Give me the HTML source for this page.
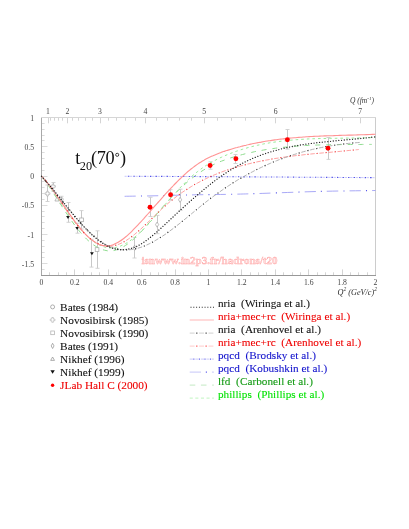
<!DOCTYPE html><html><head><meta charset="utf-8"><style>
html,body{margin:0;padding:0;background:#fff}
body{width:409px;height:529px;position:relative;overflow:hidden;font-family:"Liberation Serif",serif;color:#222}
.t{position:absolute;white-space:nowrap;line-height:1}
.yl{font-size:7.7px;text-align:right;width:20px;left:14.0px;color:#444;transform:scaleY(0.95)}
.xl{font-size:7.7px;text-align:center;width:20px;color:#444;transform:scaleY(0.95)}
.lg{font-size:11.3px;left:60.1px;color:#111;-webkit-text-stroke:0.1px currentColor}
.rg{font-size:11.2px;left:217.9px;white-space:pre;letter-spacing:0.04px;-webkit-text-stroke:0.1px currentColor}
#w{position:absolute;left:0;top:0;width:409px;height:529px;will-change:transform}
</style></head><body><div id="w">
<svg width="409" height="529" viewBox="0 0 409 529" style="position:absolute;left:0;top:0">
<g fill="none" stroke-width="1">
<path d="M41.5 117V276" stroke="#a8a8a8"/><path d="M375.5 117V276" stroke="#cccccc"/>
<path d="M41 117.5H376" stroke="#d6d6d6"/><path d="M41 275.5H376" stroke="#989898"/>
</g>
<path d="M49.5 275v-2.7M58.5 275v-2.7M66.5 275v-2.7M74.5 275v-5.6M83.5 275v-2.7M91.5 275v-2.7M99.5 275v-2.7M108.5 275v-5.6M116.5 275v-2.7M125.5 275v-2.7M133.5 275v-2.7M141.5 275v-5.6M150.5 275v-2.7M158.5 275v-2.7M166.5 275v-2.7M175.5 275v-5.6M183.5 275v-2.7M191.5 275v-2.7M200.5 275v-2.7M208.5 275v-5.6M216.5 275v-2.7M225.5 275v-2.7M233.5 275v-2.7M241.5 275v-5.6M250.5 275v-2.7M258.5 275v-2.7M266.5 275v-2.7M275.5 275v-5.6M283.5 275v-2.7M292.5 275v-2.7M300.5 275v-2.7M308.5 275v-5.6M317.5 275v-2.7M325.5 275v-2.7M333.5 275v-2.7M342.5 275v-5.6M350.5 275v-2.7M358.5 275v-2.7M367.5 275v-2.7M48.5 118v5.3M50.5 118v2.7M54.5 118v2.7M58.5 118v2.7M62.5 118v2.7M67.5 118v5.3M72.5 118v2.7M78.5 118v2.7M85.5 118v2.7M92.5 118v2.7M100.5 118v5.3M108.5 118v2.7M116.5 118v2.7M125.5 118v2.7M135.5 118v2.7M145.5 118v5.3M156.5 118v2.7M167.5 118v2.7M179.5 118v2.7M191.5 118v2.7M204.5 118v5.3M217.5 118v2.7M231.5 118v2.7M245.5 118v2.7M260.5 118v2.7M275.5 118v5.3M291.5 118v2.7M307.5 118v2.7M324.5 118v2.7M342.5 118v2.7M360.5 118v5.3" fill="none" stroke="#d4d4d4" stroke-width="1"/>
<path d="M42 269.5h2.6M42 263.5h5.5M42 257.5h2.6M42 252.5h2.6M42 246.5h2.6M42 240.5h2.6M42 234.5h5.5M42 228.5h2.6M42 222.5h2.6M42 216.5h2.6M42 211.5h2.6M42 205.5h5.5M42 199.5h2.6M42 193.5h2.6M42 187.5h2.6M42 181.5h2.6M42 176.5h5.5M42 170.5h2.6M42 164.5h2.6M42 158.5h2.6M42 152.5h2.6M42 146.5h5.5M42 140.5h2.6M42 135.5h2.6M42 129.5h2.6M42 123.5h2.6" fill="none" stroke="#dcdcdc" stroke-width="1"/>
<path d="M47.5 185.0V201.5" fill="none" stroke="#c8c8c8" stroke-width="1"/><path d="M45.5 185.0h4.0M45.5 201.5h4.0" fill="none" stroke="#cecece" stroke-width="0.9"/>
<path d="M46.7 191.2h1.6v1.6h1.6v1.6h-1.6v1.6h-1.6v-1.6h-1.6v-1.6h1.6z" fill="#fff" stroke="#a2a2a2" stroke-width="0.6"/>
<path d="M53.5 182.5V191.4" fill="none" stroke="#c8c8c8" stroke-width="1"/><path d="M51.5 182.5h4.0M51.5 191.4h4.0" fill="none" stroke="#cecece" stroke-width="0.9"/>
<path d="M52.2 184.0h1.6v1.6h1.6v1.6h-1.6v1.6h-1.6v-1.6h-1.6v-1.6h1.6z" fill="#fff" stroke="#a2a2a2" stroke-width="0.6"/>
<path d="M61.5 196.3V203.0" fill="none" stroke="#c8c8c8" stroke-width="1"/><path d="M59.5 196.3h4.0M59.5 203.0h4.0" fill="none" stroke="#cecece" stroke-width="0.9"/>
<path d="M54.9 201.0l2.1 -3.9l2.1 3.9z" fill="#fff" stroke="#a2a2a2" stroke-width="0.7"/>
<circle cx="61.2" cy="199.4" r="2.0" fill="none" stroke="#a2a2a2" stroke-width="0.7"/>
<path d="M81.5 210.6V229.0" fill="none" stroke="#c8c8c8" stroke-width="1"/><path d="M79.5 210.6h4.0M79.5 229.0h4.0" fill="none" stroke="#cecece" stroke-width="0.9"/>
<rect x="79.7" y="218.0" width="3.7" height="3.7" fill="#fff" stroke="#a2a2a2" stroke-width="0.7"/>
<path d="M97.5 230.8V268.3" fill="none" stroke="#c8c8c8" stroke-width="1"/><path d="M95.5 230.8h4.0M95.5 268.3h4.0" fill="none" stroke="#cecece" stroke-width="0.9"/>
<rect x="95.2" y="247.7" width="3.7" height="3.7" fill="#fff" stroke="#a2a2a2" stroke-width="0.7"/>
<path d="M68.5 202.5V222.3" fill="none" stroke="#c8c8c8" stroke-width="1"/><path d="M66.5 202.5h4.0M66.5 222.3h4.0" fill="none" stroke="#cecece" stroke-width="0.9"/>
<path d="M66.1 216.0h3.8l-1.9 3.1z" fill="#111"/>
<path d="M77.5 223.3V233.2" fill="none" stroke="#c8c8c8" stroke-width="1"/><path d="M75.5 223.3h4.0M75.5 233.2h4.0" fill="none" stroke="#cecece" stroke-width="0.9"/>
<path d="M75.3 226.9h3.8l-1.9 3.1z" fill="#111"/>
<path d="M91.5 239.3V267.1" fill="none" stroke="#c8c8c8" stroke-width="1"/><path d="M89.5 239.3h4.0M89.5 267.1h4.0" fill="none" stroke="#cecece" stroke-width="0.9"/>
<path d="M90.0 252.2h3.8l-1.9 3.1z" fill="#111"/>
<path d="M134.5 237.4V258.0" fill="none" stroke="#c8c8c8" stroke-width="1"/><path d="M132.5 237.4h4.0M132.5 258.0h4.0" fill="none" stroke="#cecece" stroke-width="0.9"/>
<path d="M133.0 247.8l1.6 -2.6l1.6 2.6l-1.6 2.6z" fill="#fff" stroke="#a2a2a2" stroke-width="0.7"/>
<path d="M157.5 215.4V233.7" fill="none" stroke="#c8c8c8" stroke-width="1"/><path d="M155.5 215.4h4.0M155.5 233.7h4.0" fill="none" stroke="#cecece" stroke-width="0.9"/>
<path d="M155.5 224.6l1.6 -2.6l1.6 2.6l-1.6 2.6z" fill="#fff" stroke="#a2a2a2" stroke-width="0.7"/>
<path d="M180.5 189.2V210.4" fill="none" stroke="#c8c8c8" stroke-width="1"/><path d="M178.5 189.2h4.0M178.5 210.4h4.0" fill="none" stroke="#cecece" stroke-width="0.9"/>
<path d="M178.5 199.8l1.6 -2.6l1.6 2.6l-1.6 2.6z" fill="#fff" stroke="#a2a2a2" stroke-width="0.7"/>
<path d="M150.5 197.3V216.5" fill="none" stroke="#c8c8c8" stroke-width="1"/><path d="M148.5 197.3h4.0M148.5 216.5h4.0" fill="none" stroke="#cecece" stroke-width="0.9"/>
<path d="M170.5 189.7V200.1" fill="none" stroke="#c8c8c8" stroke-width="1"/><path d="M168.5 189.7h4.0M168.5 200.1h4.0" fill="none" stroke="#cecece" stroke-width="0.9"/>
<path d="M210.5 161.8V169.2" fill="none" stroke="#c8c8c8" stroke-width="1"/><path d="M208.5 161.8h4.0M208.5 169.2h4.0" fill="none" stroke="#cecece" stroke-width="0.9"/>
<path d="M235.5 154.5V163.5" fill="none" stroke="#c8c8c8" stroke-width="1"/><path d="M233.5 154.5h4.0M233.5 163.5h4.0" fill="none" stroke="#cecece" stroke-width="0.9"/>
<path d="M287.5 129.5V149.1" fill="none" stroke="#c8c8c8" stroke-width="1"/><path d="M285.5 129.5h4.0M285.5 149.1h4.0" fill="none" stroke="#cecece" stroke-width="0.9"/>
<path d="M328.5 137.5V159.4" fill="none" stroke="#c8c8c8" stroke-width="1"/><path d="M326.5 137.5h4.0M326.5 159.4h4.0" fill="none" stroke="#cecece" stroke-width="0.9"/>
<path d="M41.5 176.2C42.0 176.9 43.5 178.8 44.5 180.1C45.5 181.5 46.5 182.9 47.5 184.3C48.5 185.8 49.5 187.2 50.5 188.7C51.5 190.2 52.5 191.7 53.5 193.2C54.5 194.8 55.5 196.3 56.5 197.8C57.5 199.4 58.5 201.0 59.5 202.5C60.5 204.1 61.5 205.6 62.5 207.2C63.5 208.7 64.5 210.3 65.5 211.8C66.5 213.3 67.5 214.8 68.5 216.3C69.5 217.8 70.5 219.3 71.5 220.7C72.5 222.1 73.5 223.5 74.5 224.9C75.5 226.2 76.5 227.6 77.5 228.8C78.5 230.1 79.5 231.3 80.5 232.5C81.5 233.7 82.5 234.8 83.5 235.9C84.5 237.0 85.5 238.0 86.5 239.0C87.5 239.9 88.5 240.9 89.5 241.7C90.5 242.6 91.5 243.4 92.5 244.2C93.5 244.9 94.5 245.6 95.5 246.2C96.5 246.9 97.5 247.4 98.5 247.9C99.5 248.4 100.5 248.9 101.5 249.3C102.5 249.6 103.5 250.0 104.5 250.2C105.5 250.5 106.5 250.6 107.5 250.8C108.5 250.9 109.5 250.9 110.5 250.9C111.5 250.8 112.5 250.7 113.5 250.6C114.5 250.4 115.5 250.1 116.5 249.8C117.5 249.5 118.5 249.1 119.5 248.7C120.5 248.3 121.5 247.8 122.5 247.2C123.5 246.7 124.6 246.1 125.6 245.4C126.6 244.7 127.6 244.0 128.6 243.3C129.6 242.5 130.6 241.7 131.6 240.9C132.6 240.0 133.6 239.1 134.6 238.2C135.6 237.3 136.6 236.3 137.6 235.3C138.6 234.3 139.6 233.3 140.6 232.3C141.6 231.2 142.6 230.2 143.6 229.1C144.6 228.0 145.6 226.9 146.6 225.7C147.6 224.6 148.6 223.5 149.6 222.3C150.6 221.1 151.6 220.0 152.6 218.8C153.6 217.6 154.6 216.5 155.6 215.3C156.6 214.1 157.6 212.9 158.6 211.8C159.6 210.6 160.6 209.4 161.6 208.3C162.6 207.1 163.6 206.0 164.6 204.8C165.6 203.7 166.6 202.6 167.6 201.5C168.6 200.4 169.6 199.3 170.6 198.2C171.6 197.2 172.6 196.1 173.6 195.1C174.6 194.1 175.6 193.1 176.6 192.1C177.6 191.1 178.6 190.1 179.6 189.1C180.6 188.2 181.6 187.2 182.6 186.3C183.6 185.4 184.6 184.5 185.6 183.6C186.6 182.7 187.6 181.8 188.6 181.0C189.6 180.2 190.6 179.3 191.6 178.5C192.6 177.7 193.6 177.0 194.6 176.2C195.6 175.4 196.6 174.7 197.6 174.0C198.6 173.3 199.6 172.6 200.6 171.9C201.6 171.3 202.6 170.6 203.6 170.0C204.6 169.4 205.6 168.8 206.6 168.2C207.6 167.6 208.6 167.1 209.6 166.6C210.6 166.0 211.6 165.5 212.6 165.0C213.6 164.5 214.6 164.1 215.6 163.6C216.6 163.2 217.6 162.7 218.6 162.3C219.6 161.9 220.6 161.5 221.6 161.1C222.6 160.7 223.6 160.3 224.6 160.0C225.6 159.6 226.6 159.3 227.6 158.9C228.6 158.6 229.6 158.3 230.6 157.9C231.6 157.6 232.6 157.3 233.6 157.0C234.6 156.7 235.6 156.4 236.6 156.1C237.6 155.8 238.6 155.6 239.6 155.3C240.6 155.0 241.6 154.8 242.6 154.5C243.6 154.2 244.6 154.0 245.6 153.7C246.6 153.5 247.6 153.3 248.6 153.0C249.6 152.8 250.6 152.6 251.6 152.4C252.6 152.1 253.6 151.9 254.6 151.7C255.6 151.5 256.6 151.3 257.6 151.1C258.6 150.9 259.6 150.7 260.6 150.5C261.6 150.4 262.6 150.2 263.6 150.0C264.6 149.8 265.6 149.7 266.6 149.5C267.6 149.4 268.6 149.2 269.6 149.0C270.6 148.9 271.6 148.8 272.6 148.6C273.6 148.5 274.6 148.3 275.6 148.2C276.6 148.1 277.6 147.9 278.6 147.8C279.6 147.7 280.6 147.6 281.6 147.5C282.6 147.4 283.6 147.3 284.6 147.2C285.6 147.0 286.6 146.9 287.6 146.9C288.6 146.8 289.7 146.7 290.7 146.6C291.7 146.5 292.7 146.4 293.7 146.3C294.7 146.2 295.7 146.2 296.7 146.1C297.7 146.0 298.7 146.0 299.7 145.9C300.7 145.8 301.7 145.8 302.7 145.7C303.7 145.6 304.7 145.6 305.7 145.5C306.7 145.5 307.7 145.4 308.7 145.4C309.7 145.3 310.7 145.3 311.7 145.3C312.7 145.2 313.7 145.2 314.7 145.1C315.7 145.1 316.7 145.1 317.7 145.0C318.7 145.0 319.7 145.0 320.7 144.9C321.7 144.9 322.7 144.9 323.7 144.9C324.7 144.8 325.7 144.8 326.7 144.8C327.7 144.8 328.7 144.7 329.7 144.7C330.7 144.7 331.7 144.7 332.7 144.7C333.7 144.7 334.7 144.7 335.7 144.6C336.7 144.6 337.7 144.6 338.7 144.6C339.7 144.6 340.7 144.6 341.7 144.6C342.7 144.6 343.7 144.6 344.7 144.6C345.7 144.5 346.7 144.5 347.7 144.5C348.7 144.5 349.7 144.5 350.7 144.5C351.7 144.5 352.7 144.5 353.7 144.5C354.7 144.5 355.7 144.5 356.7 144.5C357.7 144.5 358.7 144.5 359.7 144.5C360.7 144.5 361.7 144.5 362.7 144.4C363.7 144.4 364.7 144.4 365.7 144.4C366.7 144.4 367.7 144.4 368.7 144.4C369.7 144.4 371.2 144.4 371.7 144.4" fill="none" stroke="#8fdc8f" stroke-width="1.0" stroke-dasharray="5 5.8"/>
<path d="M41.5 176.2C42.0 176.8 43.5 178.7 44.5 180.0C45.5 181.3 46.5 182.6 47.5 183.9C48.5 185.3 49.5 186.7 50.5 188.0C51.5 189.4 52.5 190.9 53.5 192.3C54.5 193.7 55.5 195.2 56.5 196.6C57.5 198.0 58.5 199.5 59.5 201.0C60.5 202.4 61.5 203.9 62.5 205.3C63.5 206.8 64.5 208.2 65.5 209.6C66.5 211.1 67.5 212.5 68.5 213.9C69.5 215.3 70.5 216.6 71.5 218.0C72.5 219.3 73.5 220.7 74.5 221.9C75.6 223.2 76.6 224.5 77.6 225.7C78.6 226.9 79.6 228.1 80.6 229.3C81.6 230.4 82.6 231.5 83.6 232.6C84.6 233.6 85.6 234.6 86.6 235.6C87.6 236.5 88.6 237.5 89.6 238.3C90.6 239.2 91.6 240.0 92.6 240.7C93.6 241.5 94.6 242.2 95.6 242.9C96.6 243.5 97.6 244.1 98.6 244.6C99.6 245.2 100.6 245.6 101.6 246.0C102.6 246.5 103.6 246.8 104.6 247.1C105.6 247.4 106.6 247.6 107.6 247.7C108.6 247.9 109.6 247.9 110.6 248.0C111.6 248.0 112.6 247.9 113.6 247.8C114.6 247.7 115.6 247.5 116.6 247.2C117.6 247.0 118.6 246.7 119.6 246.4C120.6 246.0 121.6 245.6 122.6 245.1C123.6 244.7 124.6 244.1 125.6 243.6C126.6 243.0 127.6 242.4 128.6 241.7C129.6 241.1 130.6 240.4 131.6 239.6C132.6 238.9 133.6 238.1 134.6 237.3C135.6 236.5 136.6 235.6 137.6 234.7C138.6 233.8 139.6 232.9 140.6 231.9C141.7 230.9 142.7 229.9 143.7 228.9C144.7 227.9 145.7 226.8 146.7 225.8C147.7 224.7 148.7 223.6 149.7 222.5C150.7 221.4 151.7 220.2 152.7 219.1C153.7 217.9 154.7 216.8 155.7 215.6C156.7 214.5 157.7 213.3 158.7 212.1C159.7 210.9 160.7 209.8 161.7 208.6C162.7 207.4 163.7 206.2 164.7 205.1C165.7 203.9 166.7 202.7 167.7 201.6C168.7 200.4 169.7 199.3 170.7 198.1C171.7 197.0 172.7 195.9 173.7 194.8C174.7 193.6 175.7 192.5 176.7 191.5C177.7 190.4 178.7 189.3 179.7 188.2C180.7 187.2 181.7 186.1 182.7 185.1C183.7 184.1 184.7 183.1 185.7 182.1C186.7 181.1 187.7 180.2 188.7 179.2C189.7 178.3 190.7 177.4 191.7 176.5C192.7 175.6 193.7 174.7 194.7 173.9C195.7 173.1 196.7 172.2 197.7 171.5C198.7 170.7 199.7 169.9 200.7 169.2C201.7 168.5 202.7 167.7 203.7 167.1C204.7 166.4 205.7 165.7 206.7 165.1C207.7 164.5 208.8 163.8 209.8 163.3C210.8 162.7 211.8 162.1 212.8 161.5C213.8 161.0 214.8 160.5 215.8 160.0C216.8 159.4 217.8 158.9 218.8 158.5C219.8 158.0 220.8 157.5 221.8 157.1C222.8 156.6 223.8 156.2 224.8 155.7C225.8 155.3 226.8 154.9 227.8 154.5C228.8 154.1 229.8 153.7 230.8 153.3C231.8 152.9 232.8 152.6 233.8 152.2C234.8 151.8 235.8 151.5 236.8 151.1C237.8 150.8 238.8 150.5 239.8 150.1C240.8 149.8 241.8 149.5 242.8 149.2C243.8 148.9 244.8 148.6 245.8 148.3C246.8 148.0 247.8 147.7 248.8 147.4C249.8 147.2 250.8 146.9 251.8 146.6C252.8 146.4 253.8 146.1 254.8 145.9C255.8 145.7 256.8 145.4 257.8 145.2C258.8 145.0 259.8 144.8 260.8 144.5C261.8 144.3 262.8 144.1 263.8 143.9C264.8 143.7 265.8 143.5 266.8 143.4C267.8 143.2 268.8 143.0 269.8 142.8C270.8 142.7 271.8 142.5 272.8 142.4C273.8 142.2 274.8 142.0 275.9 141.9C276.9 141.8 277.9 141.6 278.9 141.5C279.9 141.4 280.9 141.2 281.9 141.1C282.9 141.0 283.9 140.9 284.9 140.8C285.9 140.6 286.9 140.5 287.9 140.4C288.9 140.3 289.9 140.2 290.9 140.2C291.9 140.1 292.9 140.0 293.9 139.9C294.9 139.8 295.9 139.7 296.9 139.7C297.9 139.6 298.9 139.5 299.9 139.4C300.9 139.4 301.9 139.3 302.9 139.3C303.9 139.2 304.9 139.1 305.9 139.1C306.9 139.0 307.9 139.0 308.9 138.9C309.9 138.9 310.9 138.9 311.9 138.8C312.9 138.8 313.9 138.7 314.9 138.7C315.9 138.7 316.9 138.6 317.9 138.6C318.9 138.6 319.9 138.6 320.9 138.5C321.9 138.5 322.9 138.5 323.9 138.5C324.9 138.4 325.9 138.4 326.9 138.4C327.9 138.4 328.9 138.4 329.9 138.3C330.9 138.3 331.9 138.3 332.9 138.3C333.9 138.3 334.9 138.3 335.9 138.3C336.9 138.2 337.9 138.2 338.9 138.2C339.9 138.2 340.9 138.2 342.0 138.2C343.0 138.2 344.0 138.2 345.0 138.1C346.0 138.1 347.0 138.1 348.0 138.1C349.0 138.1 350.0 138.1 351.0 138.1C352.0 138.1 353.0 138.0 354.0 138.0C355.0 138.0 356.0 138.0 357.0 138.0C358.0 138.0 359.0 137.9 360.0 137.9C361.0 137.9 362.0 137.9 363.0 137.8C364.0 137.8 365.0 137.8 366.0 137.8C367.0 137.7 368.0 137.7 369.0 137.7C370.0 137.6 371.0 137.6 372.0 137.6C373.0 137.5 374.5 137.5 375.0 137.5" fill="none" stroke="#98ea98" stroke-width="1.0" stroke-dasharray="2.6 3"/>
<path d="M124.6 176.3C134.7 176.3 166.6 176.4 185.0 176.5C203.4 176.6 215.8 176.7 235.0 176.8C254.2 176.9 276.6 177.0 300.0 177.2C323.4 177.3 362.9 177.6 375.5 177.7" fill="none" stroke="#b0b0f7" stroke-width="0.7" stroke-dasharray="2.3 3.2"/>
<path d="M124.6 176.3C134.7 176.3 166.6 176.4 185.0 176.5C203.4 176.6 215.8 176.7 235.0 176.8C254.2 176.9 276.6 177.0 300.0 177.2C323.4 177.3 362.9 177.6 375.5 177.7" fill="none" stroke="#5252ea" stroke-width="1.1" stroke-dasharray="1.4 4.1" stroke-dashoffset="-3.4"/>
<path d="M124.6 196.3C128.8 196.2 139.1 196.1 150.0 195.9C160.9 195.7 175.8 195.2 190.0 194.9C204.2 194.6 222.5 194.5 235.0 194.2C247.5 193.9 250.8 193.8 265.0 193.3C279.2 192.8 301.6 191.9 320.0 191.4C338.4 190.9 366.2 190.7 375.5 190.5" fill="none" stroke="#9a9af4" stroke-width="0.85" stroke-dasharray="11.2 11.3"/>
<path d="M124.6 196.3C128.8 196.2 139.1 196.1 150.0 195.9C160.9 195.7 175.8 195.2 190.0 194.9C204.2 194.6 222.5 194.5 235.0 194.2C247.5 193.9 250.8 193.8 265.0 193.3C279.2 192.8 301.6 191.9 320.0 191.4C338.4 190.9 366.2 190.7 375.5 190.5" fill="none" stroke="#5858ea" stroke-width="1.1" stroke-dasharray="1 21.5" stroke-dashoffset="-16.4"/>
<path d="M41.5 176.2C42.0 176.8 43.5 178.5 44.5 179.6C45.5 180.8 46.5 182.1 47.5 183.3C48.5 184.6 49.5 185.9 50.5 187.2C51.5 188.6 52.5 189.9 53.5 191.3C54.5 192.7 55.5 194.1 56.5 195.5C57.5 196.9 58.6 198.4 59.6 199.8C60.6 201.2 61.6 202.7 62.6 204.1C63.6 205.6 64.6 207.0 65.6 208.4C66.6 209.9 67.6 211.3 68.6 212.7C69.6 214.1 70.6 215.5 71.6 216.9C72.6 218.3 73.6 219.7 74.6 221.0C75.6 222.3 76.6 223.7 77.6 224.9C78.6 226.2 79.6 227.4 80.6 228.6C81.6 229.8 82.6 231.0 83.6 232.1C84.6 233.2 85.6 234.3 86.6 235.3C87.6 236.3 88.6 237.2 89.6 238.1C90.6 239.0 91.7 239.8 92.7 240.6C93.7 241.3 94.7 242.0 95.7 242.6C96.7 243.3 97.7 243.8 98.7 244.3C99.7 244.7 100.7 245.1 101.7 245.4C102.7 245.6 103.7 245.8 104.7 245.9C105.7 246.0 106.7 246.0 107.7 246.0C108.7 245.9 109.7 245.7 110.7 245.5C111.7 245.2 112.7 244.9 113.7 244.5C114.7 244.1 115.7 243.6 116.7 243.1C117.7 242.6 118.7 242.0 119.7 241.3C120.7 240.7 121.7 240.0 122.7 239.2C123.7 238.5 124.7 237.7 125.8 236.8C126.8 236.0 127.8 235.1 128.8 234.1C129.8 233.2 130.8 232.3 131.8 231.3C132.8 230.3 133.8 229.3 134.8 228.2C135.8 227.2 136.8 226.2 137.8 225.1C138.8 224.0 139.8 222.9 140.8 221.9C141.8 220.8 142.8 219.7 143.8 218.6C144.8 217.4 145.8 216.3 146.8 215.2C147.8 214.1 148.8 212.9 149.8 211.8C150.8 210.6 151.8 209.5 152.8 208.4C153.8 207.2 154.8 206.1 155.8 204.9C156.8 203.8 157.8 202.6 158.9 201.5C159.9 200.4 160.9 199.2 161.9 198.1C162.9 197.0 163.9 195.9 164.9 194.7C165.9 193.6 166.9 192.5 167.9 191.4C168.9 190.3 169.9 189.3 170.9 188.2C171.9 187.1 172.9 186.1 173.9 185.0C174.9 184.0 175.9 183.0 176.9 182.0C177.9 180.9 178.9 180.0 179.9 179.0C180.9 178.0 181.9 177.0 182.9 176.1C183.9 175.2 184.9 174.3 185.9 173.4C186.9 172.5 187.9 171.6 188.9 170.8C189.9 169.9 190.9 169.1 192.0 168.3C193.0 167.5 194.0 166.8 195.0 166.0C196.0 165.3 197.0 164.6 198.0 163.9C199.0 163.2 200.0 162.6 201.0 162.0C202.0 161.3 203.0 160.7 204.0 160.2C205.0 159.6 206.0 159.1 207.0 158.5C208.0 158.0 209.0 157.5 210.0 157.0C211.0 156.6 212.0 156.1 213.0 155.7C214.0 155.2 215.0 154.8 216.0 154.4C217.0 154.0 218.0 153.6 219.0 153.2C220.0 152.8 221.0 152.5 222.0 152.1C223.0 151.8 224.0 151.4 225.0 151.1C226.1 150.8 227.1 150.4 228.1 150.1C229.1 149.8 230.1 149.5 231.1 149.2C232.1 148.9 233.1 148.6 234.1 148.3C235.1 148.0 236.1 147.7 237.1 147.5C238.1 147.2 239.1 146.9 240.1 146.7C241.1 146.4 242.1 146.2 243.1 145.9C244.1 145.7 245.1 145.4 246.1 145.2C247.1 144.9 248.1 144.7 249.1 144.5C250.1 144.3 251.1 144.0 252.1 143.8C253.1 143.6 254.1 143.4 255.1 143.2C256.1 143.0 257.1 142.8 258.1 142.6C259.2 142.4 260.2 142.2 261.2 142.1C262.2 141.9 263.2 141.7 264.2 141.5C265.2 141.4 266.2 141.2 267.2 141.0C268.2 140.9 269.2 140.7 270.2 140.6C271.2 140.4 272.2 140.3 273.2 140.1C274.2 140.0 275.2 139.8 276.2 139.7C277.2 139.6 278.2 139.4 279.2 139.3C280.2 139.2 281.2 139.1 282.2 139.0C283.2 138.8 284.2 138.7 285.2 138.6C286.2 138.5 287.2 138.4 288.2 138.3C289.2 138.2 290.2 138.1 291.2 138.0C292.3 137.9 293.3 137.8 294.3 137.7C295.3 137.7 296.3 137.6 297.3 137.5C298.3 137.4 299.3 137.3 300.3 137.2C301.3 137.2 302.3 137.1 303.3 137.0C304.3 137.0 305.3 136.9 306.3 136.8C307.3 136.8 308.3 136.7 309.3 136.6C310.3 136.6 311.3 136.5 312.3 136.5C313.3 136.4 314.3 136.4 315.3 136.3C316.3 136.3 317.3 136.2 318.3 136.2C319.3 136.1 320.3 136.1 321.3 136.0C322.3 136.0 323.3 135.9 324.3 135.9C325.3 135.9 326.4 135.8 327.4 135.8C328.4 135.8 329.4 135.7 330.4 135.7C331.4 135.6 332.4 135.6 333.4 135.6C334.4 135.5 335.4 135.5 336.4 135.5C337.4 135.5 338.4 135.4 339.4 135.4C340.4 135.4 341.4 135.3 342.4 135.3C343.4 135.3 344.4 135.3 345.4 135.2C346.4 135.2 347.4 135.2 348.4 135.1C349.4 135.1 350.4 135.1 351.4 135.1C352.4 135.0 353.4 135.0 354.4 135.0C355.4 135.0 356.4 134.9 357.4 134.9C358.4 134.9 359.5 134.9 360.5 134.8C361.5 134.8 362.5 134.8 363.5 134.7C364.5 134.7 365.5 134.7 366.5 134.6C367.5 134.6 368.5 134.6 369.5 134.5C370.5 134.5 371.5 134.5 372.5 134.4C373.5 134.4 375.0 134.4 375.5 134.3" fill="none" stroke="#ff9494" stroke-width="1.1"/>
<path d="M41.5 176.2C42.0 176.7 43.5 178.1 44.5 179.2C45.5 180.2 46.5 181.4 47.5 182.6C48.5 183.8 49.5 185.0 50.5 186.3C51.5 187.6 52.5 189.0 53.5 190.4C54.5 191.8 55.5 193.2 56.5 194.7C57.5 196.1 58.5 197.6 59.5 199.1C60.5 200.6 61.5 202.1 62.5 203.6C63.5 205.1 64.4 206.7 65.4 208.2C66.4 209.7 67.4 211.2 68.4 212.7C69.4 214.2 70.4 215.6 71.4 217.1C72.4 218.5 73.4 219.9 74.4 221.3C75.4 222.6 76.4 224.0 77.4 225.2C78.4 226.5 79.4 227.7 80.4 228.9C81.4 230.1 82.4 231.2 83.4 232.2C84.4 233.3 85.4 234.3 86.4 235.2C87.4 236.2 88.4 237.1 89.4 237.9C90.4 238.7 91.4 239.5 92.4 240.2C93.4 240.9 94.4 241.6 95.4 242.2C96.4 242.8 97.4 243.3 98.4 243.8C99.4 244.2 100.4 244.6 101.4 245.0C102.4 245.3 103.4 245.6 104.4 245.8C105.4 246.0 106.4 246.2 107.4 246.2C108.4 246.3 109.4 246.3 110.3 246.2C111.3 246.2 112.3 246.0 113.3 245.9C114.3 245.7 115.3 245.4 116.3 245.1C117.3 244.8 118.3 244.4 119.3 244.0C120.3 243.6 121.3 243.2 122.3 242.7C123.3 242.2 124.3 241.6 125.3 241.0C126.3 240.4 127.3 239.8 128.3 239.1C129.3 238.4 130.3 237.7 131.3 237.0C132.3 236.2 133.3 235.4 134.3 234.6C135.3 233.8 136.3 233.0 137.3 232.1C138.3 231.3 139.3 230.4 140.3 229.5C141.3 228.6 142.3 227.7 143.3 226.7C144.3 225.8 145.3 224.9 146.3 223.9C147.3 223.0 148.3 222.0 149.3 221.0C150.3 220.1 151.3 219.1 152.3 218.1C153.3 217.1 154.3 216.2 155.2 215.2C156.2 214.2 157.2 213.3 158.2 212.3C159.2 211.4 160.2 210.4 161.2 209.5C162.2 208.5 163.2 207.6 164.2 206.7C165.2 205.8 166.2 204.9 167.2 204.1C168.2 203.2 169.2 202.4 170.2 201.5C171.2 200.7 172.2 199.9 173.2 199.1C174.2 198.3 175.2 197.6 176.2 196.8C177.2 196.0 178.2 195.3 179.2 194.6C180.2 193.8 181.2 193.1 182.2 192.4C183.2 191.8 184.2 191.1 185.2 190.4C186.2 189.8 187.2 189.1 188.2 188.5C189.2 187.8 190.2 187.2 191.2 186.6C192.2 186.0 193.2 185.4 194.2 184.8C195.2 184.3 196.2 183.7 197.2 183.2C198.2 182.6 199.2 182.1 200.2 181.6C201.1 181.0 202.1 180.5 203.1 180.0C204.1 179.5 205.1 179.0 206.1 178.6C207.1 178.1 208.1 177.6 209.1 177.2C210.1 176.7 211.1 176.3 212.1 175.8C213.1 175.4 214.1 175.0 215.1 174.6C216.1 174.2 217.1 173.8 218.1 173.4C219.1 173.0 220.1 172.6 221.1 172.2C222.1 171.9 223.1 171.5 224.1 171.1C225.1 170.8 226.1 170.4 227.1 170.1C228.1 169.8 229.1 169.4 230.1 169.1C231.1 168.8 232.1 168.5 233.1 168.2C234.1 167.8 235.1 167.5 236.1 167.2C237.1 167.0 238.1 166.7 239.1 166.4C240.1 166.1 241.1 165.8 242.1 165.5C243.1 165.3 244.1 165.0 245.1 164.8C246.0 164.5 247.0 164.2 248.0 164.0C249.0 163.7 250.0 163.5 251.0 163.3C252.0 163.0 253.0 162.8 254.0 162.6C255.0 162.4 256.0 162.1 257.0 161.9C258.0 161.7 259.0 161.5 260.0 161.3C261.0 161.1 262.0 160.9 263.0 160.7C264.0 160.5 265.0 160.3 266.0 160.1C267.0 159.9 268.0 159.7 269.0 159.6C270.0 159.4 271.0 159.2 272.0 159.0C273.0 158.9 274.0 158.7 275.0 158.5C276.0 158.4 277.0 158.2 278.0 158.1C279.0 157.9 280.0 157.8 281.0 157.6C282.0 157.5 283.0 157.3 284.0 157.2C285.0 157.0 286.0 156.9 287.0 156.8C288.0 156.6 289.0 156.5 290.0 156.4C290.9 156.3 291.9 156.1 292.9 156.0C293.9 155.9 294.9 155.8 295.9 155.6C296.9 155.5 297.9 155.4 298.9 155.3C299.9 155.2 300.9 155.1 301.9 155.0C302.9 154.9 303.9 154.7 304.9 154.6C305.9 154.5 306.9 154.4 307.9 154.3C308.9 154.2 309.9 154.1 310.9 154.0C311.9 153.9 312.9 153.8 313.9 153.7C314.9 153.6 315.9 153.5 316.9 153.5C317.9 153.4 318.9 153.3 319.9 153.2C320.9 153.1 321.9 153.0 322.9 152.9C323.9 152.8 324.9 152.7 325.9 152.6C326.9 152.5 327.9 152.4 328.9 152.4C329.9 152.3 330.9 152.2 331.9 152.1C332.9 152.0 333.9 151.9 334.9 151.8C335.9 151.7 336.8 151.6 337.8 151.6C338.8 151.5 339.8 151.4 340.8 151.3C341.8 151.2 342.8 151.1 343.8 151.0C344.8 150.9 345.8 150.8 346.8 150.7C347.8 150.6 348.8 150.5 349.8 150.4C350.8 150.3 351.8 150.2 352.8 150.1C353.8 150.0 354.8 149.9 355.8 149.8C356.8 149.7 358.3 149.6 358.8 149.5" fill="none" stroke="#ff8a8a" stroke-width="0.8" stroke-dasharray="4.5 4.6"/>
<path d="M41.5 176.2C42.0 176.7 43.5 178.1 44.5 179.2C45.5 180.2 46.5 181.4 47.5 182.6C48.5 183.8 49.5 185.0 50.5 186.3C51.5 187.6 52.5 189.0 53.5 190.4C54.5 191.8 55.5 193.2 56.5 194.7C57.5 196.1 58.5 197.6 59.5 199.1C60.5 200.6 61.5 202.1 62.5 203.6C63.5 205.1 64.4 206.7 65.4 208.2C66.4 209.7 67.4 211.2 68.4 212.7C69.4 214.2 70.4 215.6 71.4 217.1C72.4 218.5 73.4 219.9 74.4 221.3C75.4 222.6 76.4 224.0 77.4 225.2C78.4 226.5 79.4 227.7 80.4 228.9C81.4 230.1 82.4 231.2 83.4 232.2C84.4 233.3 85.4 234.3 86.4 235.2C87.4 236.2 88.4 237.1 89.4 237.9C90.4 238.7 91.4 239.5 92.4 240.2C93.4 240.9 94.4 241.6 95.4 242.2C96.4 242.8 97.4 243.3 98.4 243.8C99.4 244.2 100.4 244.6 101.4 245.0C102.4 245.3 103.4 245.6 104.4 245.8C105.4 246.0 106.4 246.2 107.4 246.2C108.4 246.3 109.4 246.3 110.3 246.2C111.3 246.2 112.3 246.0 113.3 245.9C114.3 245.7 115.3 245.4 116.3 245.1C117.3 244.8 118.3 244.4 119.3 244.0C120.3 243.6 121.3 243.2 122.3 242.7C123.3 242.2 124.3 241.6 125.3 241.0C126.3 240.4 127.3 239.8 128.3 239.1C129.3 238.4 130.3 237.7 131.3 237.0C132.3 236.2 133.3 235.4 134.3 234.6C135.3 233.8 136.3 233.0 137.3 232.1C138.3 231.3 139.3 230.4 140.3 229.5C141.3 228.6 142.3 227.7 143.3 226.7C144.3 225.8 145.3 224.9 146.3 223.9C147.3 223.0 148.3 222.0 149.3 221.0C150.3 220.1 151.3 219.1 152.3 218.1C153.3 217.1 154.3 216.2 155.2 215.2C156.2 214.2 157.2 213.3 158.2 212.3C159.2 211.4 160.2 210.4 161.2 209.5C162.2 208.5 163.2 207.6 164.2 206.7C165.2 205.8 166.2 204.9 167.2 204.1C168.2 203.2 169.2 202.4 170.2 201.5C171.2 200.7 172.2 199.9 173.2 199.1C174.2 198.3 175.2 197.6 176.2 196.8C177.2 196.0 178.2 195.3 179.2 194.6C180.2 193.8 181.2 193.1 182.2 192.4C183.2 191.8 184.2 191.1 185.2 190.4C186.2 189.8 187.2 189.1 188.2 188.5C189.2 187.8 190.2 187.2 191.2 186.6C192.2 186.0 193.2 185.4 194.2 184.8C195.2 184.3 196.2 183.7 197.2 183.2C198.2 182.6 199.2 182.1 200.2 181.6C201.1 181.0 202.1 180.5 203.1 180.0C204.1 179.5 205.1 179.0 206.1 178.6C207.1 178.1 208.1 177.6 209.1 177.2C210.1 176.7 211.1 176.3 212.1 175.8C213.1 175.4 214.1 175.0 215.1 174.6C216.1 174.2 217.1 173.8 218.1 173.4C219.1 173.0 220.1 172.6 221.1 172.2C222.1 171.9 223.1 171.5 224.1 171.1C225.1 170.8 226.1 170.4 227.1 170.1C228.1 169.8 229.1 169.4 230.1 169.1C231.1 168.8 232.1 168.5 233.1 168.2C234.1 167.8 235.1 167.5 236.1 167.2C237.1 167.0 238.1 166.7 239.1 166.4C240.1 166.1 241.1 165.8 242.1 165.5C243.1 165.3 244.1 165.0 245.1 164.8C246.0 164.5 247.0 164.2 248.0 164.0C249.0 163.7 250.0 163.5 251.0 163.3C252.0 163.0 253.0 162.8 254.0 162.6C255.0 162.4 256.0 162.1 257.0 161.9C258.0 161.7 259.0 161.5 260.0 161.3C261.0 161.1 262.0 160.9 263.0 160.7C264.0 160.5 265.0 160.3 266.0 160.1C267.0 159.9 268.0 159.7 269.0 159.6C270.0 159.4 271.0 159.2 272.0 159.0C273.0 158.9 274.0 158.7 275.0 158.5C276.0 158.4 277.0 158.2 278.0 158.1C279.0 157.9 280.0 157.8 281.0 157.6C282.0 157.5 283.0 157.3 284.0 157.2C285.0 157.0 286.0 156.9 287.0 156.8C288.0 156.6 289.0 156.5 290.0 156.4C290.9 156.3 291.9 156.1 292.9 156.0C293.9 155.9 294.9 155.8 295.9 155.6C296.9 155.5 297.9 155.4 298.9 155.3C299.9 155.2 300.9 155.1 301.9 155.0C302.9 154.9 303.9 154.7 304.9 154.6C305.9 154.5 306.9 154.4 307.9 154.3C308.9 154.2 309.9 154.1 310.9 154.0C311.9 153.9 312.9 153.8 313.9 153.7C314.9 153.6 315.9 153.5 316.9 153.5C317.9 153.4 318.9 153.3 319.9 153.2C320.9 153.1 321.9 153.0 322.9 152.9C323.9 152.8 324.9 152.7 325.9 152.6C326.9 152.5 327.9 152.4 328.9 152.4C329.9 152.3 330.9 152.2 331.9 152.1C332.9 152.0 333.9 151.9 334.9 151.8C335.9 151.7 336.8 151.6 337.8 151.6C338.8 151.5 339.8 151.4 340.8 151.3C341.8 151.2 342.8 151.1 343.8 151.0C344.8 150.9 345.8 150.8 346.8 150.7C347.8 150.6 348.8 150.5 349.8 150.4C350.8 150.3 351.8 150.2 352.8 150.1C353.8 150.0 354.8 149.9 355.8 149.8C356.8 149.7 358.3 149.6 358.8 149.5" fill="none" stroke="#ee3030" stroke-width="1.2" stroke-dasharray="1.1 8.0" stroke-dashoffset="-6.3"/>
<path d="M41.5 176.2C42.0 176.8 43.5 178.6 44.5 179.8C45.5 181.0 46.5 182.2 47.5 183.5C48.5 184.7 49.5 185.9 50.5 187.2C51.5 188.4 52.5 189.7 53.5 190.9C54.5 192.1 55.6 193.4 56.6 194.6C57.6 195.9 58.6 197.1 59.6 198.4C60.6 199.6 61.6 200.9 62.6 202.1C63.6 203.3 64.6 204.6 65.6 205.8C66.6 207.0 67.6 208.2 68.6 209.4C69.6 210.6 70.6 211.8 71.6 213.0C72.6 214.2 73.6 215.3 74.6 216.5C75.6 217.7 76.6 218.8 77.6 219.9C78.6 221.0 79.6 222.1 80.6 223.2C81.7 224.3 82.7 225.3 83.7 226.4C84.7 227.4 85.7 228.4 86.7 229.4C87.7 230.4 88.7 231.4 89.7 232.3C90.7 233.2 91.7 234.1 92.7 235.0C93.7 235.9 94.7 236.7 95.7 237.5C96.7 238.3 97.7 239.1 98.7 239.9C99.7 240.6 100.7 241.3 101.7 242.0C102.7 242.7 103.7 243.3 104.7 243.9C105.7 244.5 106.7 245.0 107.7 245.5C108.8 246.0 109.8 246.5 110.8 246.9C111.8 247.3 112.8 247.7 113.8 248.0C114.8 248.4 115.8 248.6 116.8 248.9C117.8 249.1 118.8 249.3 119.8 249.5C120.8 249.6 121.8 249.7 122.8 249.8C123.8 249.9 124.8 249.9 125.8 249.9C126.8 249.9 127.8 249.9 128.8 249.8C129.8 249.7 130.8 249.6 131.8 249.5C132.8 249.3 133.8 249.1 134.9 248.9C135.9 248.7 136.9 248.5 137.9 248.2C138.9 247.9 139.9 247.6 140.9 247.3C141.9 246.9 142.9 246.6 143.9 246.2C144.9 245.8 145.9 245.3 146.9 244.9C147.9 244.5 148.9 244.0 149.9 243.5C150.9 243.0 151.9 242.5 152.9 241.9C153.9 241.4 154.9 240.8 155.9 240.2C156.9 239.6 157.9 239.0 158.9 238.4C159.9 237.8 160.9 237.1 162.0 236.5C163.0 235.8 164.0 235.2 165.0 234.5C166.0 233.8 167.0 233.1 168.0 232.3C169.0 231.6 170.0 230.9 171.0 230.1C172.0 229.4 173.0 228.6 174.0 227.9C175.0 227.1 176.0 226.3 177.0 225.5C178.0 224.7 179.0 224.0 180.0 223.2C181.0 222.4 182.0 221.5 183.0 220.7C184.0 219.9 185.0 219.1 186.0 218.3C187.0 217.5 188.1 216.6 189.1 215.8C190.1 215.0 191.1 214.2 192.1 213.3C193.1 212.5 194.1 211.7 195.1 210.8C196.1 210.0 197.1 209.2 198.1 208.4C199.1 207.6 200.1 206.7 201.1 205.9C202.1 205.1 203.1 204.3 204.1 203.5C205.1 202.7 206.1 201.9 207.1 201.1C208.1 200.4 209.1 199.6 210.1 198.8C211.1 198.1 212.1 197.3 213.1 196.6C214.1 195.8 215.2 195.1 216.2 194.3C217.2 193.6 218.2 192.9 219.2 192.2C220.2 191.5 221.2 190.8 222.2 190.1C223.2 189.4 224.2 188.7 225.2 188.0C226.2 187.3 227.2 186.7 228.2 186.0C229.2 185.4 230.2 184.7 231.2 184.1C232.2 183.4 233.2 182.8 234.2 182.2C235.2 181.5 236.2 180.9 237.2 180.3C238.2 179.7 239.2 179.1 240.2 178.5C241.3 177.9 242.3 177.4 243.3 176.8C244.3 176.2 245.3 175.6 246.3 175.1C247.3 174.5 248.3 174.0 249.3 173.4C250.3 172.9 251.3 172.4 252.3 171.9C253.3 171.3 254.3 170.8 255.3 170.3C256.3 169.8 257.3 169.3 258.3 168.8C259.3 168.3 260.3 167.8 261.3 167.4C262.3 166.9 263.3 166.4 264.3 166.0C265.3 165.5 266.3 165.0 267.3 164.6C268.4 164.2 269.4 163.7 270.4 163.3C271.4 162.9 272.4 162.4 273.4 162.0C274.4 161.6 275.4 161.2 276.4 160.8C277.4 160.4 278.4 160.0 279.4 159.6C280.4 159.2 281.4 158.9 282.4 158.5C283.4 158.1 284.4 157.8 285.4 157.4C286.4 157.1 287.4 156.7 288.4 156.4C289.4 156.0 290.4 155.7 291.4 155.4C292.4 155.0 293.4 154.7 294.5 154.4C295.5 154.1 296.5 153.8 297.5 153.5C298.5 153.2 299.5 152.9 300.5 152.6C301.5 152.3 302.5 152.0 303.5 151.7C304.5 151.5 305.5 151.2 306.5 150.9C307.5 150.7 308.5 150.4 309.5 150.2C310.5 149.9 311.5 149.7 312.5 149.4C313.5 149.2 314.5 149.0 315.5 148.8C316.5 148.5 317.5 148.3 318.5 148.1C319.5 147.9 320.5 147.7 321.6 147.5C322.6 147.3 323.6 147.1 324.6 146.9C325.6 146.7 326.6 146.5 327.6 146.3C328.6 146.2 329.6 146.0 330.6 145.8C331.6 145.7 332.6 145.5 333.6 145.3C334.6 145.2 335.6 145.0 336.6 144.9C337.6 144.7 338.6 144.6 339.6 144.5C340.6 144.3 341.6 144.2 342.6 144.1C343.6 144.0 344.6 143.8 345.6 143.7C346.6 143.6 347.7 143.5 348.7 143.4C349.7 143.3 350.7 143.2 351.7 143.1C352.7 143.0 353.7 142.9 354.7 142.8C355.7 142.8 356.7 142.7 357.7 142.6C358.7 142.5 360.2 142.4 360.7 142.4" fill="none" stroke="#a0a0a0" stroke-width="0.8" stroke-dasharray="4.5 4.6"/>
<path d="M41.5 176.2C42.0 176.8 43.5 178.6 44.5 179.8C45.5 181.0 46.5 182.2 47.5 183.5C48.5 184.7 49.5 185.9 50.5 187.2C51.5 188.4 52.5 189.7 53.5 190.9C54.5 192.1 55.6 193.4 56.6 194.6C57.6 195.9 58.6 197.1 59.6 198.4C60.6 199.6 61.6 200.9 62.6 202.1C63.6 203.3 64.6 204.6 65.6 205.8C66.6 207.0 67.6 208.2 68.6 209.4C69.6 210.6 70.6 211.8 71.6 213.0C72.6 214.2 73.6 215.3 74.6 216.5C75.6 217.7 76.6 218.8 77.6 219.9C78.6 221.0 79.6 222.1 80.6 223.2C81.7 224.3 82.7 225.3 83.7 226.4C84.7 227.4 85.7 228.4 86.7 229.4C87.7 230.4 88.7 231.4 89.7 232.3C90.7 233.2 91.7 234.1 92.7 235.0C93.7 235.9 94.7 236.7 95.7 237.5C96.7 238.3 97.7 239.1 98.7 239.9C99.7 240.6 100.7 241.3 101.7 242.0C102.7 242.7 103.7 243.3 104.7 243.9C105.7 244.5 106.7 245.0 107.7 245.5C108.8 246.0 109.8 246.5 110.8 246.9C111.8 247.3 112.8 247.7 113.8 248.0C114.8 248.4 115.8 248.6 116.8 248.9C117.8 249.1 118.8 249.3 119.8 249.5C120.8 249.6 121.8 249.7 122.8 249.8C123.8 249.9 124.8 249.9 125.8 249.9C126.8 249.9 127.8 249.9 128.8 249.8C129.8 249.7 130.8 249.6 131.8 249.5C132.8 249.3 133.8 249.1 134.9 248.9C135.9 248.7 136.9 248.5 137.9 248.2C138.9 247.9 139.9 247.6 140.9 247.3C141.9 246.9 142.9 246.6 143.9 246.2C144.9 245.8 145.9 245.3 146.9 244.9C147.9 244.5 148.9 244.0 149.9 243.5C150.9 243.0 151.9 242.5 152.9 241.9C153.9 241.4 154.9 240.8 155.9 240.2C156.9 239.6 157.9 239.0 158.9 238.4C159.9 237.8 160.9 237.1 162.0 236.5C163.0 235.8 164.0 235.2 165.0 234.5C166.0 233.8 167.0 233.1 168.0 232.3C169.0 231.6 170.0 230.9 171.0 230.1C172.0 229.4 173.0 228.6 174.0 227.9C175.0 227.1 176.0 226.3 177.0 225.5C178.0 224.7 179.0 224.0 180.0 223.2C181.0 222.4 182.0 221.5 183.0 220.7C184.0 219.9 185.0 219.1 186.0 218.3C187.0 217.5 188.1 216.6 189.1 215.8C190.1 215.0 191.1 214.2 192.1 213.3C193.1 212.5 194.1 211.7 195.1 210.8C196.1 210.0 197.1 209.2 198.1 208.4C199.1 207.6 200.1 206.7 201.1 205.9C202.1 205.1 203.1 204.3 204.1 203.5C205.1 202.7 206.1 201.9 207.1 201.1C208.1 200.4 209.1 199.6 210.1 198.8C211.1 198.1 212.1 197.3 213.1 196.6C214.1 195.8 215.2 195.1 216.2 194.3C217.2 193.6 218.2 192.9 219.2 192.2C220.2 191.5 221.2 190.8 222.2 190.1C223.2 189.4 224.2 188.7 225.2 188.0C226.2 187.3 227.2 186.7 228.2 186.0C229.2 185.4 230.2 184.7 231.2 184.1C232.2 183.4 233.2 182.8 234.2 182.2C235.2 181.5 236.2 180.9 237.2 180.3C238.2 179.7 239.2 179.1 240.2 178.5C241.3 177.9 242.3 177.4 243.3 176.8C244.3 176.2 245.3 175.6 246.3 175.1C247.3 174.5 248.3 174.0 249.3 173.4C250.3 172.9 251.3 172.4 252.3 171.9C253.3 171.3 254.3 170.8 255.3 170.3C256.3 169.8 257.3 169.3 258.3 168.8C259.3 168.3 260.3 167.8 261.3 167.4C262.3 166.9 263.3 166.4 264.3 166.0C265.3 165.5 266.3 165.0 267.3 164.6C268.4 164.2 269.4 163.7 270.4 163.3C271.4 162.9 272.4 162.4 273.4 162.0C274.4 161.6 275.4 161.2 276.4 160.8C277.4 160.4 278.4 160.0 279.4 159.6C280.4 159.2 281.4 158.9 282.4 158.5C283.4 158.1 284.4 157.8 285.4 157.4C286.4 157.1 287.4 156.7 288.4 156.4C289.4 156.0 290.4 155.7 291.4 155.4C292.4 155.0 293.4 154.7 294.5 154.4C295.5 154.1 296.5 153.8 297.5 153.5C298.5 153.2 299.5 152.9 300.5 152.6C301.5 152.3 302.5 152.0 303.5 151.7C304.5 151.5 305.5 151.2 306.5 150.9C307.5 150.7 308.5 150.4 309.5 150.2C310.5 149.9 311.5 149.7 312.5 149.4C313.5 149.2 314.5 149.0 315.5 148.8C316.5 148.5 317.5 148.3 318.5 148.1C319.5 147.9 320.5 147.7 321.6 147.5C322.6 147.3 323.6 147.1 324.6 146.9C325.6 146.7 326.6 146.5 327.6 146.3C328.6 146.2 329.6 146.0 330.6 145.8C331.6 145.7 332.6 145.5 333.6 145.3C334.6 145.2 335.6 145.0 336.6 144.9C337.6 144.7 338.6 144.6 339.6 144.5C340.6 144.3 341.6 144.2 342.6 144.1C343.6 144.0 344.6 143.8 345.6 143.7C346.6 143.6 347.7 143.5 348.7 143.4C349.7 143.3 350.7 143.2 351.7 143.1C352.7 143.0 353.7 142.9 354.7 142.8C355.7 142.8 356.7 142.7 357.7 142.6C358.7 142.5 360.2 142.4 360.7 142.4" fill="none" stroke="#2a2a2a" stroke-width="1.2" stroke-dasharray="1.1 8.0" stroke-dashoffset="-6.3"/>
<path d="M41.5 176.2C42.0 176.7 43.5 178.4 44.5 179.5C45.5 180.6 46.5 181.7 47.5 182.9C48.5 184.0 49.5 185.2 50.5 186.4C51.5 187.6 52.5 188.8 53.5 190.0C54.5 191.2 55.5 192.5 56.5 193.7C57.5 194.9 58.6 196.2 59.6 197.4C60.6 198.7 61.6 199.9 62.6 201.2C63.6 202.4 64.6 203.7 65.6 204.9C66.6 206.2 67.6 207.4 68.6 208.6C69.6 209.9 70.6 211.1 71.6 212.3C72.6 213.6 73.6 214.8 74.6 216.0C75.6 217.2 76.6 218.4 77.6 219.5C78.6 220.7 79.6 221.8 80.6 223.0C81.6 224.1 82.6 225.2 83.6 226.3C84.6 227.4 85.6 228.5 86.6 229.5C87.6 230.5 88.6 231.6 89.6 232.5C90.6 233.5 91.7 234.5 92.7 235.4C93.7 236.3 94.7 237.2 95.7 238.0C96.7 238.9 97.7 239.7 98.7 240.5C99.7 241.2 100.7 242.0 101.7 242.6C102.7 243.3 103.7 244.0 104.7 244.6C105.7 245.2 106.7 245.7 107.7 246.2C108.7 246.7 109.7 247.2 110.7 247.6C111.7 248.0 112.7 248.3 113.7 248.6C114.7 248.9 115.7 249.1 116.7 249.3C117.7 249.5 118.7 249.6 119.7 249.7C120.7 249.8 121.7 249.8 122.7 249.8C123.7 249.7 124.7 249.7 125.8 249.5C126.8 249.4 127.8 249.3 128.8 249.0C129.8 248.8 130.8 248.5 131.8 248.2C132.8 247.9 133.8 247.5 134.8 247.1C135.8 246.7 136.8 246.3 137.8 245.8C138.8 245.3 139.8 244.7 140.8 244.1C141.8 243.6 142.8 242.9 143.8 242.3C144.8 241.6 145.8 240.9 146.8 240.1C147.8 239.4 148.8 238.6 149.8 237.8C150.8 237.0 151.8 236.2 152.8 235.4C153.8 234.5 154.8 233.6 155.8 232.8C156.8 231.9 157.8 231.0 158.9 230.1C159.9 229.2 160.9 228.2 161.9 227.3C162.9 226.4 163.9 225.5 164.9 224.5C165.9 223.6 166.9 222.7 167.9 221.7C168.9 220.8 169.9 219.9 170.9 218.9C171.9 218.0 172.9 217.1 173.9 216.1C174.9 215.2 175.9 214.3 176.9 213.4C177.9 212.4 178.9 211.5 179.9 210.6C180.9 209.7 181.9 208.7 182.9 207.8C183.9 206.9 184.9 206.0 185.9 205.1C186.9 204.2 187.9 203.3 188.9 202.4C189.9 201.5 190.9 200.6 192.0 199.7C193.0 198.8 194.0 197.9 195.0 197.1C196.0 196.2 197.0 195.3 198.0 194.5C199.0 193.6 200.0 192.8 201.0 191.9C202.0 191.1 203.0 190.2 204.0 189.4C205.0 188.6 206.0 187.8 207.0 186.9C208.0 186.1 209.0 185.3 210.0 184.5C211.0 183.8 212.0 183.0 213.0 182.2C214.0 181.4 215.0 180.7 216.0 179.9C217.0 179.2 218.0 178.4 219.0 177.7C220.0 177.0 221.0 176.3 222.0 175.6C223.0 174.9 224.0 174.2 225.0 173.5C226.1 172.9 227.1 172.2 228.1 171.6C229.1 170.9 230.1 170.3 231.1 169.7C232.1 169.1 233.1 168.5 234.1 167.9C235.1 167.3 236.1 166.7 237.1 166.2C238.1 165.6 239.1 165.1 240.1 164.5C241.1 164.0 242.1 163.5 243.1 163.0C244.1 162.5 245.1 162.0 246.1 161.5C247.1 161.0 248.1 160.5 249.1 160.1C250.1 159.6 251.1 159.2 252.1 158.7C253.1 158.3 254.1 157.9 255.1 157.5C256.1 157.0 257.1 156.6 258.1 156.2C259.2 155.9 260.2 155.5 261.2 155.1C262.2 154.7 263.2 154.4 264.2 154.0C265.2 153.7 266.2 153.3 267.2 153.0C268.2 152.7 269.2 152.4 270.2 152.0C271.2 151.7 272.2 151.4 273.2 151.1C274.2 150.8 275.2 150.6 276.2 150.3C277.2 150.0 278.2 149.7 279.2 149.5C280.2 149.2 281.2 149.0 282.2 148.7C283.2 148.5 284.2 148.2 285.2 148.0C286.2 147.8 287.2 147.5 288.2 147.3C289.2 147.1 290.2 146.9 291.2 146.7C292.3 146.5 293.3 146.3 294.3 146.1C295.3 145.9 296.3 145.7 297.3 145.6C298.3 145.4 299.3 145.2 300.3 145.0C301.3 144.9 302.3 144.7 303.3 144.6C304.3 144.4 305.3 144.3 306.3 144.1C307.3 144.0 308.3 143.8 309.3 143.7C310.3 143.5 311.3 143.4 312.3 143.3C313.3 143.2 314.3 143.0 315.3 142.9C316.3 142.8 317.3 142.7 318.3 142.5C319.3 142.4 320.3 142.3 321.3 142.2C322.3 142.1 323.3 142.0 324.3 141.9C325.3 141.8 326.4 141.7 327.4 141.6C328.4 141.5 329.4 141.4 330.4 141.3C331.4 141.2 332.4 141.1 333.4 141.0C334.4 140.9 335.4 140.8 336.4 140.7C337.4 140.6 338.4 140.5 339.4 140.4C340.4 140.4 341.4 140.3 342.4 140.2C343.4 140.1 344.4 140.0 345.4 139.9C346.4 139.8 347.4 139.7 348.4 139.6C349.4 139.5 350.4 139.5 351.4 139.4C352.4 139.3 353.4 139.2 354.4 139.1C355.4 139.0 356.4 138.9 357.4 138.8C358.4 138.7 359.5 138.6 360.5 138.5C361.5 138.4 362.5 138.3 363.5 138.2C364.5 138.1 365.5 138.0 366.5 137.8C367.5 137.7 368.5 137.6 369.5 137.5C370.5 137.4 371.5 137.3 372.5 137.1C373.5 137.0 375.0 136.8 375.5 136.7" fill="none" stroke="#222" stroke-width="1.3" stroke-linecap="round" stroke-dasharray="0.01 2.75"/>
<circle cx="150.0" cy="207.3" r="2.45" fill="#ff0000"/>
<circle cx="170.6" cy="194.8" r="2.45" fill="#ff0000"/>
<circle cx="210.1" cy="165.5" r="2.45" fill="#ff0000"/>
<circle cx="235.9" cy="158.8" r="2.45" fill="#ff0000"/>
<circle cx="287.4" cy="139.8" r="2.45" fill="#ff0000"/>
<circle cx="328.0" cy="148.3" r="2.45" fill="#ff0000"/>
<circle cx="52.6" cy="306.9" r="2.0" fill="#fff" stroke="#8e8e8e" stroke-width="0.7"/>
<path d="M51.8 317.5h1.6v1.6h1.6v1.6h-1.6v1.6h-1.6v-1.6h-1.6v-1.6h1.6z" fill="#fff" stroke="#adadad" stroke-width="0.6"/>
<rect x="50.8" y="331.0" width="3.7" height="3.7" fill="#fff" stroke="#adadad" stroke-width="0.7"/>
<path d="M51.2 345.9l1.4 -2.6l1.4 2.6l-1.4 2.6z" fill="#fff" stroke="#8e8e8e" stroke-width="0.7"/>
<path d="M50.7 360.4l1.9 -3.4l1.9 3.4z" fill="#fff" stroke="#8e8e8e" stroke-width="0.7"/>
<path d="M50.4 370.3h4.4l-2.2 3.5z" fill="#111"/>
<circle cx="52.6" cy="385.2" r="1.7" fill="#ff0000"/>
<path d="M190.5 307.25H214.2" fill="none" stroke="#262626" stroke-width="1.2" stroke-dasharray="1 1.81"/>
<path d="M189.7 320.00H213.9" fill="none" stroke="#ffcaca" stroke-width="1.4"/>
<path d="M189.7 333.10H213.9" fill="none" stroke="#dadada" stroke-width="1.2" stroke-dasharray="4.9 4.5"/>
<path d="M189.7 333.10H213.9" fill="none" stroke="#666" stroke-width="1.3" stroke-dasharray="1.5 7.9" stroke-dashoffset="-6.3"/>
<path d="M189.7 346.10H213.9" fill="none" stroke="#ffd6d6" stroke-width="1.2" stroke-dasharray="4.9 4.5"/>
<path d="M189.7 346.10H213.9" fill="none" stroke="#ff7272" stroke-width="1.3" stroke-dasharray="1.5 7.9" stroke-dashoffset="-6.3"/>
<path d="M189.7 359.10H213.9" fill="none" stroke="#d6d6fa" stroke-width="1.2" stroke-dasharray="3.2 2.37"/>
<path d="M189.7 359.10H213.9" fill="none" stroke="#6464ee" stroke-width="1.3" stroke-dasharray="1.1 4.47" stroke-dashoffset="-3.6"/>
<path d="M189.7 372.20H213.9" fill="none" stroke="#d2d2fa" stroke-width="1.2" stroke-dasharray="11.3 10.9"/>
<path d="M189.7 372.20H213.9" fill="none" stroke="#6464ee" stroke-width="1.3" stroke-dasharray="1.2 100" stroke-dashoffset="-16.1"/>
<path d="M189.7 385.20H213.9" fill="none" stroke="#d0eed0" stroke-width="1.2" stroke-dasharray="5.6 5.6"/>
<path d="M189.7 398.20H213.9" fill="none" stroke="#cdf7cd" stroke-width="1.2" stroke-dasharray="3.1 2.5"/>
<circle cx="117.2" cy="154.8" r="1.55" fill="none" stroke="#222" stroke-width="0.85"/>
</svg>
<div class="t yl" style="top:114.6px">1</div>
<div class="t yl" style="top:143.8px">0.5</div>
<div class="t yl" style="top:173.1px">0</div>
<div class="t yl" style="top:202.3px">-0.5</div>
<div class="t yl" style="top:231.6px">-1</div>
<div class="t yl" style="top:260.9px">-1.5</div>
<div class="t xl" style="left:31.5px;top:279.2px">0</div>
<div class="t xl" style="left:64.9px;top:279.2px">0.2</div>
<div class="t xl" style="left:98.3px;top:279.2px">0.4</div>
<div class="t xl" style="left:131.7px;top:279.2px">0.6</div>
<div class="t xl" style="left:165.1px;top:279.2px">0.8</div>
<div class="t xl" style="left:198.5px;top:279.2px">1</div>
<div class="t xl" style="left:231.9px;top:279.2px">1.2</div>
<div class="t xl" style="left:265.3px;top:279.2px">1.4</div>
<div class="t xl" style="left:298.7px;top:279.2px">1.6</div>
<div class="t xl" style="left:332.1px;top:279.2px">1.8</div>
<div class="t xl" style="left:365.5px;top:279.2px">2</div>
<div class="t xl" style="left:38.0px;top:107.8px">1</div>
<div class="t xl" style="left:57.5px;top:107.8px">2</div>
<div class="t xl" style="left:90.0px;top:107.8px">3</div>
<div class="t xl" style="left:135.5px;top:107.8px">4</div>
<div class="t xl" style="left:194.1px;top:107.8px">5</div>
<div class="t xl" style="left:265.6px;top:107.8px">6</div>
<div class="t xl" style="left:350.1px;top:107.8px">7</div>
<div class="t" style="left:350px;top:96.5px;font-size:7.5px;font-style:italic;color:#333">Q (fm<sup style="font-size:5px;line-height:0;vertical-align:3px">-1</sup>)</div>
<div class="t" style="left:337.6px;top:288.7px;font-size:8.2px;font-style:italic;color:#2a2a2a">Q<sup style="font-size:5.5px;line-height:0;vertical-align:4px">2</sup> (GeV/c)<sup style="font-size:5.5px;line-height:0;vertical-align:4px">2</sup></div>
<div class="t" style="left:75.3px;top:148.6px;font-size:18.3px;color:#111">t</div>
<div class="t" style="left:79.8px;top:159.8px;font-size:12.3px;color:#111">20</div>
<div class="t" style="left:91.1px;top:148.6px;font-size:18.3px;color:#111;letter-spacing:-0.35px">(70</div>
<div class="t" style="left:119.9px;top:148.6px;font-size:18.3px;color:#111">)</div>
<div class="t" id="wm" style="left:141.5px;top:254.9px;font-size:11px;font-weight:bold;color:#ffdcdc;-webkit-text-stroke:0.35px #ffa6a6;letter-spacing:0px">isnwww.in2p3.fr/hadrons/t20</div>
<div class="t lg" style="top:301.8px">Bates (1984)</div>
<div class="t lg" style="top:314.8px">Novosibirsk (1985)</div>
<div class="t lg" style="top:327.8px">Novosibirsk (1990)</div>
<div class="t lg" style="top:340.8px">Bates (1991)</div>
<div class="t lg" style="top:353.8px">Nikhef (1996)</div>
<div class="t lg" style="top:366.8px">Nikhef (1999)</div>
<div class="t lg" style="top:379.8px;color:#ee0000">JLab Hall C (2000)</div>
<div class="t rg" style="top:297.7px;color:#111">nria  (Wiringa et al.)</div>
<div class="t rg" style="top:310.7px;color:#ee0000">nria+mec+rc  (Wiringa et al.)</div>
<div class="t rg" style="top:323.7px;color:#111">nria  (Arenhovel et al.)</div>
<div class="t rg" style="top:336.7px;color:#ee0000">nria+mec+rc  (Arenhovel et al.)</div>
<div class="t rg" style="top:349.7px;color:#1111cc">pqcd  (Brodsky et al.)</div>
<div class="t rg" style="top:362.7px;color:#1111cc">pqcd  (Kobushkin et al.)</div>
<div class="t rg" style="top:375.7px;color:#119911">lfd  (Carbonell et al.)</div>
<div class="t rg" style="top:388.7px;color:#00e200">phillips  (Phillips et al.)</div>
</div></body></html>
